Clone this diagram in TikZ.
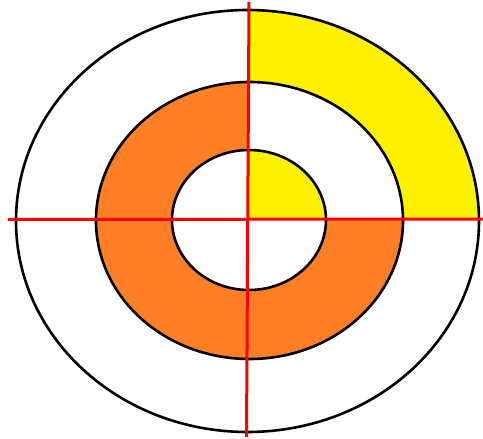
\documentclass[tikz,border=0pt]{standalone}
\begin{document}
\begin{tikzpicture}[x=1pt,y=1pt,
  ring/.style={draw=black,line width=2.6pt},
  axis/.style={draw=red,line width=3pt}]
\definecolor{ringorange}{RGB}{255,127,39}
\definecolor{ringyellow}{RGB}{255,242,0}
\useasboundingbox (0,0) rectangle (483,-439);
\fill[white] (0,0) rectangle (483,-439);
% top-right outer quadrant yellow
\begin{scope}
  \clip (248,-219) rectangle (490,0);
  \fill[ringyellow] (247.5,-221) ellipse [x radius=231.5, y radius=211];
\end{scope}
% orange middle ring
\fill[ringorange,even odd rule] (249.5,-220.5) ellipse [x radius=153.5, y radius=138.5]
   (249,-220) ellipse [x radius=77, y radius=70];
% top-right: middle ring white, inner yellow
\begin{scope}
  \clip (248,-219) rectangle (490,0);
  \fill[white] (249.5,-220.5) ellipse [x radius=153.5, y radius=138.5];
  \fill[ringyellow] (249,-220) ellipse [x radius=77, y radius=70];
\end{scope}
% outlines
\draw[ring] (247.5,-221) ellipse [x radius=231.5, y radius=211];
\draw[ring] (249.5,-220.5) ellipse [x radius=153.5, y radius=138.5];
\draw[ring] (249,-220) ellipse [x radius=77, y radius=70];
% axes
\coordinate (hl) at (8,-219.5);
\coordinate (hr) at (483,-219);
\coordinate (vt) at (249,-2);
\coordinate (vb) at (246.5,-437);
\draw[axis] (hl) -- (hr);
\draw[axis] (vt) -- (vb);
\end{tikzpicture}
\end{document}
